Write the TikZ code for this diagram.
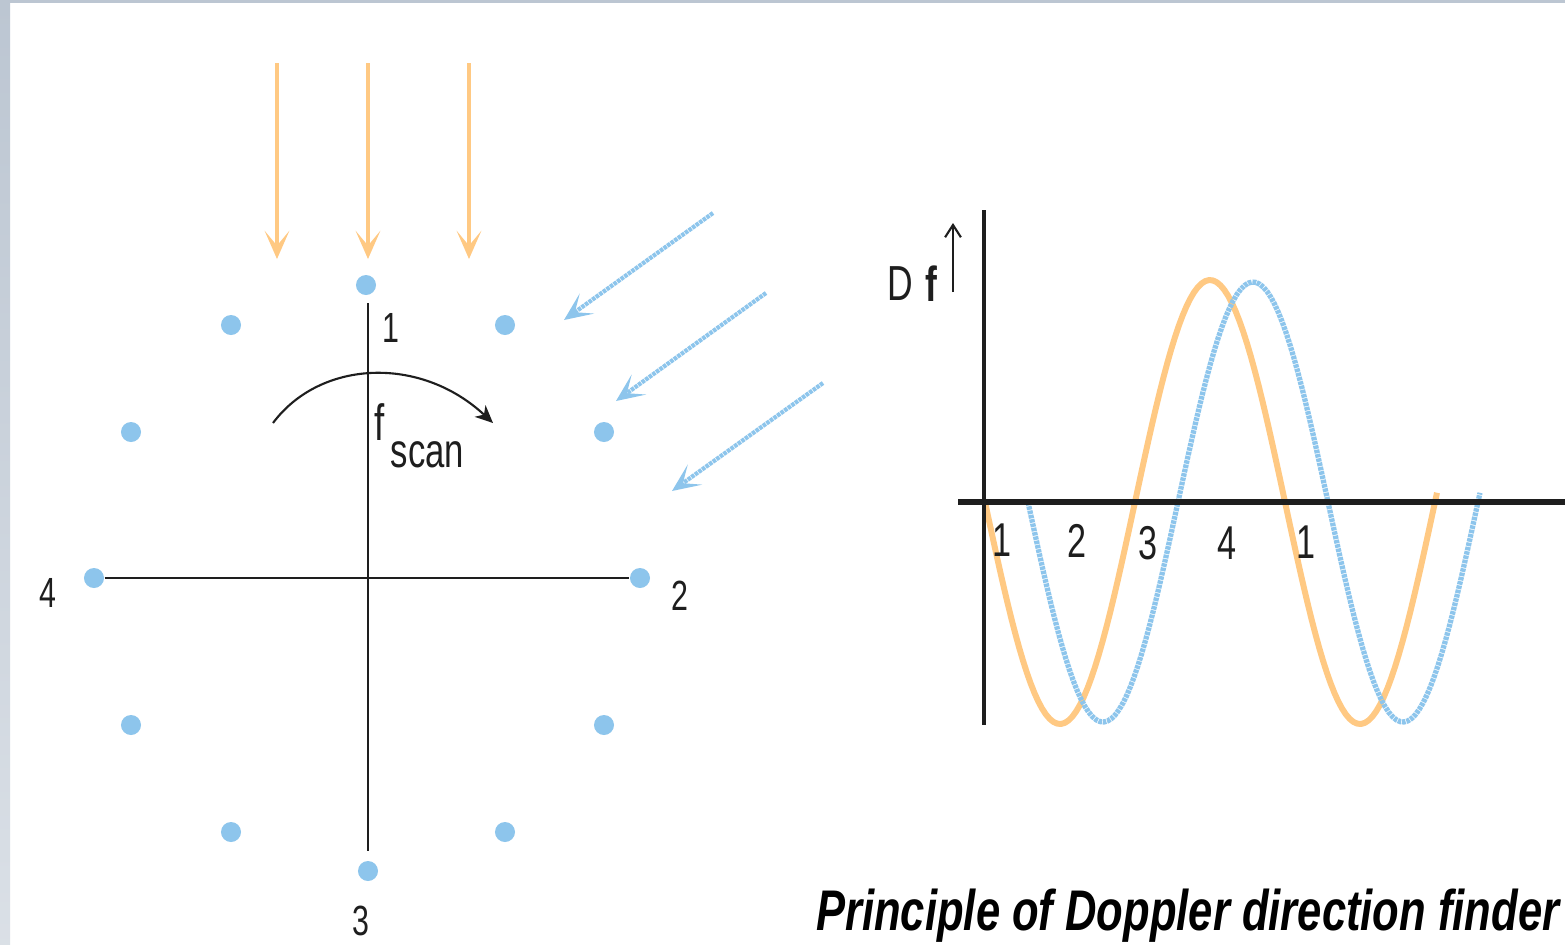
\documentclass[tikz,border=0pt]{standalone}
\usepackage{fontspec}
\usepackage{tikz}
\usetikzlibrary{arrows.meta,positioning}
\newfontfamily\condfont[FakeStretch=0.72]{Liberation Sans}
\newfontfamily\titlefont[FakeStretch=0.76]{Liberation Sans}
\definecolor{DopOrange}{HTML}{FFC983}
\definecolor{DopBlue}{HTML}{8DC5EC}
\definecolor{DopDark}{HTML}{1E1E1E}
\definecolor{DopFrame}{HTML}{BCC6D2}

\begin{document}
\begin{tikzpicture}[
    x=0.01cm, y=-0.01cm,
    antenna/.style={circle, fill=DopBlue, inner sep=0pt, minimum size=0.2cm},
    numlabel/.style={font=\condfont\fontsize{12}{14}\selectfont, inner sep=0pt,
                 anchor=base, text=DopDark},
    graphlabel/.style={numlabel, font=\condfont\fontsize{13.5}{16}\selectfont},
    wave/.style={-{Stealth[length=8pt, width=7pt, inset=4.2pt]}, line width=1.4pt,
                 draw=DopOrange},
    skewwave/.style={wave, line width=1.2pt, draw=DopBlue, dash pattern=on 1pt off 0.25pt},
    crossline/.style={line width=0.6pt, draw=DopDark},
    axis/.style={line width=1.5pt, draw=DopDark},
    scanarrow/.style={-{Stealth[length=5pt, width=4.5pt, inset=1.5pt]}, line width=0.6pt,
                 draw=DopDark},
    signal/.style={line width=1.7pt, draw=DopOrange, line join=round},
    shifted/.style={signal, line width=1.5pt, draw=DopBlue, dash pattern=on 1pt off 0.25pt}
]
% page and frame
\fill[white] (0,0) rectangle (1565,944);
\shade[top color=DopFrame, bottom color=DopFrame!55!white] (0,0) rectangle (10,944);
\fill[DopFrame] (0,0) rectangle (1565,3);
\useasboundingbox (0,0) rectangle (1565,944);

% antenna ring
\node[antenna] (antN) at (366,285) {};
\node[antenna] (antNNE) at (505,325) {};
\node[antenna] (antENE) at (604,432) {};
\node[antenna] (antE) at (640,578) {};
\node[antenna] (antESE) at (604,725) {};
\node[antenna] (antSSE) at (505,832) {};
\node[antenna] (antS) at (368,871) {};
\node[antenna] (antSSW) at (231,832) {};
\node[antenna] (antWSW) at (131,725) {};
\node[antenna] (antW) at (94,578) {};
\node[antenna] (antWNW) at (131,432) {};
\node[antenna] (antNNW) at (231,325) {};

\node[numlabel] (lab1) at (391,342) {1};
\node[numlabel] (lab2) at (680,610) {2};
\node[numlabel] (lab3) at (361,935) {3};
\node[numlabel] (lab4) at (48,607) {4};

\coordinate (crossN) at (368,303);
\coordinate (crossS) at (368,851);
\draw[crossline] (crossN) -- (crossS);
\draw[crossline] (antW.east) -- (antE.west);

% rotating scan
\coordinate (scanL) at (273,423);
\coordinate (scanR) at (493,423);
\draw[scanarrow] (scanL) .. controls (320,360) and (420,355) .. (scanR);
\node[font=\condfont\fontsize{14.5}{16}\selectfont, inner sep=0pt, anchor=base west,
      text=DopDark] (fsym) at (374,440) {f};
\node[font=\condfont\fontsize{13.7}{16}\selectfont, inner sep=0pt, anchor=base west,
      text=DopDark] (fsub) at (390,467) {scan};

% incoming waves
\coordinate (waveA0) at (277,63);  \coordinate (waveA1) at (277,259);
\coordinate (waveB0) at (368,63);  \coordinate (waveB1) at (368,259);
\coordinate (waveC0) at (469,63);  \coordinate (waveC1) at (469,259);
\draw[wave] (waveA0) -- (waveA1);
\draw[wave] (waveB0) -- (waveB1);
\draw[wave] (waveC0) -- (waveC1);

\coordinate (skewA0) at (713,213); \coordinate (skewA1) at (564,320);
\coordinate (skewB0) at (766,293); \coordinate (skewB1) at (616,401);
\coordinate (skewC0) at (823,383); \coordinate (skewC1) at (672,491);
\draw[skewwave] (skewA0) -- (skewA1);
\draw[skewwave] (skewB0) -- (skewB1);
\draw[skewwave] (skewC0) -- (skewC1);

% doppler graph
\coordinate (yTop) at (984,210);
\coordinate (yBot) at (984,725);
\coordinate (xLeft) at (958,502);
\coordinate (xRight) at (1565,502);

\draw[signal] plot[domain=985:1437, samples=120] (\x, {502+222*sin((\x-985)*1.2)});
\draw[shifted] plot[domain=1028:1480, samples=120] (\x, {502+220*sin((\x-1028)*1.2)});

\draw[axis, line width=1.3pt] (yTop) -- (yBot);
\draw[axis] (xLeft) -- (xRight);

\node[font=\condfont\fontsize{14}{16}\selectfont, inner sep=0pt, anchor=base,
      text=DopDark] (dsym) at (900,300) {D};
\node[font=\condfont\fontsize{14}{16}\selectfont\bfseries, inner sep=0pt, anchor=base,
      text=DopDark] (fbold) at (931,301) {f};
\coordinate (dfBot) at (953,292);
\coordinate (dfTop) at (953,223);
\draw[-{Straight Barb[length=3.5pt, width=4.5pt]}, line width=0.6pt, draw=DopDark]
    (dfBot) -- (dfTop);

\node[graphlabel] (g1) at (1002,556) {1};
\node[graphlabel] (g2) at (1077,557) {2};
\node[graphlabel] (g3) at (1148,559) {3};
\node[graphlabel] (g4) at (1227,559) {4};
\node[graphlabel] (g5) at (1306,558) {1};

\node[font=\titlefont\fontsize{16.3}{18}\selectfont\bfseries\itshape, inner sep=0pt,
      anchor=base east] (caption) at (1560,930) {Principle of Doppler direction finder};
\end{tikzpicture}
\end{document}
